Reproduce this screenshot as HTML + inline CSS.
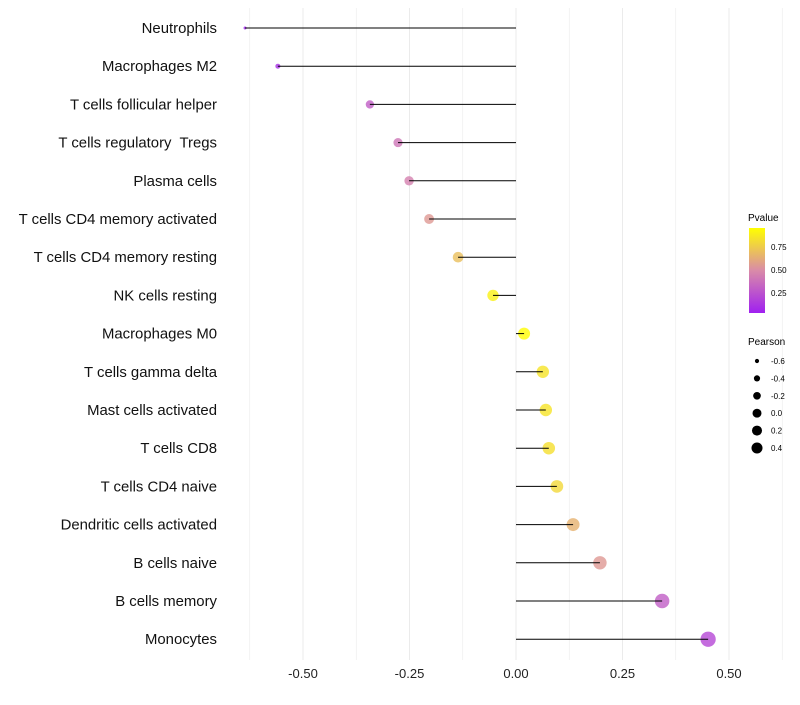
<!DOCTYPE html>
<html><head><meta charset="utf-8"><style>
body{margin:0;background:#fff;font-family:"Liberation Sans",sans-serif}
text{white-space:pre}
</style></head><body>
<svg id="chart" width="800" height="700" xmlns="http://www.w3.org/2000/svg" font-family="Liberation Sans, sans-serif">
<defs><linearGradient id="pg" x1="0" y1="1" x2="0" y2="0">
<stop offset="0" stop-color="#A020F0"/><stop offset="0.5" stop-color="#D98BA8"/><stop offset="1" stop-color="#FFFF00"/></linearGradient></defs>
<g id="grid"></g><g id="marks"></g><g id="labels"></g>
<g>
<text x="748" y="221" font-size="10">Pvalue</text>
<rect x="749" y="228" width="16" height="85" fill="url(#pg)"/>
<text x="771" y="250" font-size="8">0.75</text><text x="771" y="273" font-size="8">0.50</text><text x="771" y="296" font-size="8">0.25</text>
<text x="748" y="345" font-size="10">Pearson</text>
<g id="sizeleg"></g>
</g>
</svg>
<script>
const categories=["Neutrophils","Macrophages M2","T cells follicular helper","T cells regulatory  Tregs","Plasma cells","T cells CD4 memory activated","T cells CD4 memory resting","NK cells resting","Macrophages M0","T cells gamma delta","Mast cells activated","T cells CD8","T cells CD4 naive","Dendritic cells activated","B cells naive","B cells memory","Monocytes"];
const pearson=[-0.636,-0.559,-0.343,-0.277,-0.251,-0.204,-0.136,-0.054,0.019,0.063,0.070,0.077,0.096,0.134,0.197,0.343,0.451];
const pvalues=[0.03,0.1,0.3,0.4,0.45,0.55,0.7,0.9,0.95,0.85,0.85,0.83,0.8,0.65,0.55,0.3,0.2];
const xTicks=[-0.5,-0.25,0,0.25,0.5];
const xTickLabels=["-0.50","-0.25","0.00","0.25","0.50"];
const sizeLegend=[-0.6,-0.4,-0.2,0.0,0.2,0.4];
const sizeLegendLabels=["-0.6","-0.4","-0.2","0.0","0.2","0.4"];
const NS="http://www.w3.org/2000/svg";
const xs=v=>516+v*426;
const ys=i=>28+i*38.2;
const rs=v=>Math.sqrt(Math.max(2.2,35+51.4*v));
const rl=v=>Math.sqrt(Math.max(4,20+26*v));
function lerp(a,b,t){return a.map((c,i)=>Math.round(c+(b[i]-c)*t));}
function col(p){const lo=[160,32,240],mid=[217,139,168],hi=[255,255,0];
 const t=Math.max(0,Math.min(1,(p-0.033)/(0.956-0.033)));
 const c=t<0.5?lerp(lo,mid,t/0.5):lerp(mid,hi,(t-0.5)/0.5);return `rgb(${c})`;}
function mk(tag,a,parent){const e=document.createElementNS(NS,tag);for(const k in a)e.setAttribute(k,a[k]);document.getElementById(parent).appendChild(e);return e;}
for(let v=-0.625;v<=0.626;v+=0.125){const g=mk('line',{x1:xs(v),x2:xs(v),y1:8,y2:660,stroke:'#ebebeb','stroke-width':Math.abs(v*4-Math.round(v*4))<1e-6?1:0.6},'grid');

}
xTicks.forEach((v,i)=>{const t=mk('text',{x:xs(v),y:678,'font-size':13,'text-anchor':'middle',fill:'#222'},'labels');t.textContent=xTickLabels[i];

});
categories.forEach((c,i)=>{const y=ys(i);
const t=mk('text',{x:217,y:y+5,'font-size':14.9,'text-anchor':'end',fill:'#111'},'labels');t.textContent=c;


const p=mk('circle',{cx:xs(pearson[i]),cy:y,r:rs(pearson[i]),fill:col(pvalues[i]),'fill-opacity':0.8},'marks');


const l=mk('line',{x1:xs(0),x2:xs(pearson[i]),y1:y,y2:y,stroke:'#000','stroke-width':1},'marks');

});
sizeLegend.forEach((v,i)=>{const y=361+i*17.4;
const c=mk('circle',{cx:757,cy:y,r:rl(v),fill:'#000'},'sizeleg');


const t=mk('text',{x:771,y:y+3,'font-size':8},'sizeleg');t.textContent=sizeLegendLabels[i];

});
</script>
</body></html>
